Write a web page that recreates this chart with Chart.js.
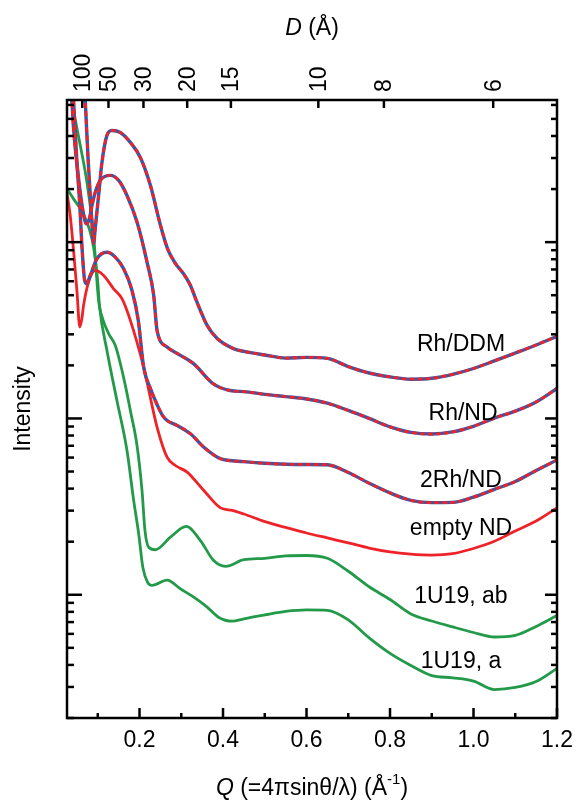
<!DOCTYPE html>
<html>
<head>
<meta charset="utf-8">
<script src="https://cdn.jsdelivr.net/npm/chart.js@4.4.0/dist/chart.umd.min.js"></script>
<style>
  html, body { margin: 0; padding: 0; background: #fff; }
</style>
</head>
<body>
<canvas id="chart" width="579" height="807"></canvas>
<script>
// Q (1/Å) vs intensity (arb. units, log scale)
const qTail = [0.45, 0.5, 0.55, 0.6, 0.65, 0.7, 0.75, 0.8, 0.85, 0.9, 0.95, 1.0, 1.05, 1.1, 1.15, 1.2];

const qRhDDM = [0.058, 0.070, 0.077, 0.085, 0.090, 0.094, 0.102, 0.110, 0.122, 0.134, 0.154, 0.178, 0.202, 0.226, 0.250, 0.267, 0.286, 0.305, 0.322, 0.336, 0.362, 0.386, 0.425, ...qTail];
const iRhDDM = [1930, 637, 290, 142, 98.4, 120, 184, 283, 403, 430, 419, 368, 302, 210, 125, 92.0, 75.7, 66.4, 56.8, 46.7, 33.7, 28.4, 24.9,
  24.0, 22.9, 22.0, 22.2, 21.9, 19.7, 18.1, 17.2, 16.7, 16.9, 17.8, 19.2, 21.2, 23.5, 26.1, 29.2];

const qRhND = [0.030, 0.038, 0.042, 0.054, 0.065, 0.073, 0.080, 0.086, 0.094, 0.106, 0.130, 0.150, 0.170, 0.194, 0.218, 0.234, 0.242, 0.266, 0.298, 0.330, 0.377, 0.417, ...qTail];
const iRhND = [1150, 637, 442, 230, 148, 127, 136, 161, 192, 224, 239, 224, 184, 130, 77.1, 49.9, 31.6, 25.4, 22.8, 20.4, 15.7, 14.4,
  14.2, 13.7, 13.3, 12.9, 12.2, 11.1, 10.0, 8.95, 8.33, 8.16, 8.39, 9.03, 10.05, 11.0, 12.4, 14.8];

const q2RhND = [0.037, 0.042, 0.050, 0.057, 0.062, 0.068, 0.073, 0.082, 0.098, 0.122, 0.142, 0.162, 0.182, 0.197, 0.210, 0.226, 0.242, 0.255, 0.266, 0.290, 0.322, 0.354, 0.394, ...qTail];
const i2RhND = [1070, 637, 284, 161, 95.7, 62.0, 58.1, 64.7, 80.5, 87.7, 82.2, 70.6, 53.2, 36.0, 19.5, 14.8, 12.0, 10.4, 9.74, 9.13, 8.19, 6.87, 5.91,
  5.69, 5.57, 5.50, 5.48, 5.46, 4.94, 4.29, 3.78, 3.43, 3.33, 3.34, 3.58, 3.96, 4.39, 5.07, 5.82];

const qEmptyND = [0.026, 0.034, 0.042, 0.050, 0.057, 0.062, 0.066, 0.078, 0.094, 0.114, 0.138, 0.158, 0.178, 0.210, 0.242, 0.266, 0.286, 0.314, 0.354, 0.394, 0.422, ...qTail];
const iEmptyND = [192, 142, 89.7, 53.2, 33.0, 36.9, 43.8, 59.3, 69.1, 64.7, 54.4, 47.8, 36.0, 19.5, 8.93, 6.03, 5.41, 4.96, 3.90, 3.11, 3.01,
  2.87, 2.60, 2.41, 2.24, 2.10, 1.97, 1.84, 1.75, 1.70, 1.68, 1.71, 1.83, 2.01, 2.30, 2.62, 3.11];

const q1U19ab = [0.026, 0.038, 0.058, 0.074, 0.090, 0.102, 0.113, 0.126, 0.142, 0.154, 0.166, 0.178, 0.194, 0.206, 0.213, 0.222, 0.238, 0.274, 0.312, 0.346, 0.377, 0.406, ...qTail];
const i1U19ab = [871, 622, 354, 219, 109, 46.7, 36.0, 30.3, 25.9, 20.5, 15.4, 11.1, 7.03, 3.90, 2.32, 1.86, 1.80, 2.12, 2.44, 2.03, 1.57, 1.45,
  1.58, 1.61, 1.66, 1.67, 1.61, 1.36, 1.11, 0.940, 0.778, 0.710, 0.657, 0.611, 0.576, 0.588, 0.661, 0.763];

const q1U19a = [0.026, 0.042, 0.058, 0.074, 0.086, 0.094, 0.100, 0.104, 0.122, 0.146, 0.170, 0.186, 0.198, 0.208, 0.219, 0.230, 0.266, 0.298, 0.330, 0.362, 0.389, 0.422, ...qTail];
const i1U19a = [201, 176, 155, 130, 104.5, 80.5, 59.3, 43.8, 24.3, 12.6, 6.58, 3.43, 2.22, 1.43, 1.18, 1.13, 1.21, 1.08, 0.969, 0.851, 0.746, 0.708,
  0.731, 0.768, 0.804, 0.820, 0.815, 0.720, 0.569, 0.465, 0.397, 0.348, 0.338, 0.324, 0.290, 0.298, 0.322, 0.382];

// axis ticks
const qTickLabels = ['0.2', '0.4', '0.6', '0.8', '1.0', '1.2'];
const qMinorTicks = [0.1, 0.3, 0.5, 0.7, 0.9, 1.1];
const dTickLabels = [100, 50, 30, 20, 15, 10, 8, 6]; // D = 2π/Q

// curve names, placed at (Q, intensity)
const curveLabels = [
  { text: 'Rh/DDM', q: 0.97, v: 24.0 },
  { text: 'Rh/ND', q: 0.975, v: 9.74 },
  { text: '2Rh/ND', q: 0.97, v: 4.06 },
  { text: 'empty ND', q: 0.97, v: 2.17 },
  { text: '1U19, ab', q: 0.97, v: 0.893 },
  { text: '1U19, a', q: 0.97, v: 0.382 }
];

const BLUE = '#3b56a5', RED = '#ee2229', GREEN = '#23994a';
const FONT = '"Liberation Sans", Arial, sans-serif';

const pts = (q, v) => q.map((x, i) => ({ x, y: v[i] }));

const line = (data, color, extra) => Object.assign({
  data, borderColor: color, borderWidth: 2.8, pointRadius: 0,
  cubicInterpolationMode: 'monotone', fill: false
}, extra || {});

const datasets = [];
// fitted samples: blue solid with red dotted on top
[[qRhDDM, iRhDDM], [qRhND, iRhND], [q2RhND, i2RhND]].forEach(([q, v]) => {
  datasets.push(line(pts(q, v), BLUE, { borderWidth: 3.4, order: 2 }));
  datasets.push(line(pts(q, v), RED, { borderWidth: 2.8, borderDash: [5, 3], order: 1 }));
});
datasets.push(line(pts(qEmptyND, iEmptyND), RED, { order: 3 }));
datasets.push(line(pts(q1U19ab, i1U19ab), GREEN, { order: 3 }));
datasets.push(line(pts(q1U19a, i1U19a), GREEN, { order: 3 }));

// frame, inward ticks, labels and titles
const axesPlugin = {
  id: 'axesPlugin',
  afterDatasetsDraw(chart) {
    const { ctx, chartArea: a, scales: { x, y } } = chart;
    ctx.save();
    ctx.strokeStyle = '#000';
    ctx.fillStyle = '#000';
    ctx.lineWidth = 2.5;
    ctx.strokeRect(a.left, a.top, a.right - a.left, a.bottom - a.top);

    const tick = (x1, y1, x2, y2) => { ctx.beginPath(); ctx.moveTo(x1, y1); ctx.lineTo(x2, y2); ctx.stroke(); };

    // bottom Q ticks
    qTickLabels.forEach(t => { const px = x.getPixelForValue(+t); tick(px, a.bottom, px, a.bottom - 10); });
    qMinorTicks.forEach(t => { const px = x.getPixelForValue(t); tick(px, a.bottom, px, a.bottom - 5); });
    // top D ticks
    dTickLabels.forEach(d => { const px = x.getPixelForValue(2 * Math.PI / d); tick(px, a.top, px, a.top + 8); });
    // log ticks left and right
    [0.1, 1, 10, 100].forEach(dec => {
      for (let m = 1; m <= 9; m++) {
        const v = m * dec;
        if (v < y.min || v > y.max) continue;
        const py = y.getPixelForValue(v);
        const major = m === 1;
        tick(a.left, py, a.left + (major ? 15 : 7), py);
        tick(a.right, py, a.right - (major ? 12 : 6), py);
      }
    });

    ctx.font = '23px ' + FONT;
    ctx.textAlign = 'center';
    ctx.textBaseline = 'alphabetic';
    qTickLabels.forEach(t => ctx.fillText(t, x.getPixelForValue(+t), 747));

    // top D labels, rotated
    ctx.textAlign = 'left';
    ctx.textBaseline = 'middle';
    dTickLabels.forEach(d => {
      ctx.save();
      ctx.translate(x.getPixelForValue(2 * Math.PI / d) + 1, a.top - 8);
      ctx.rotate(-Math.PI / 2);
      ctx.fillText(String(d), 0, 0);
      ctx.restore();
    });

    // curve names
    ctx.textAlign = 'center';
    ctx.textBaseline = 'alphabetic';
    curveLabels.forEach(l => ctx.fillText(l.text, x.getPixelForValue(l.q), y.getPixelForValue(l.v)));

    // mixed-style text runs
    const runs = (parts, cx, base) => {
      let w = 0;
      parts.forEach(p => { ctx.font = p.font; w += ctx.measureText(p.t).width; });
      let px = cx - w / 2;
      ctx.textAlign = 'left';
      parts.forEach(p => { ctx.font = p.font; ctx.fillText(p.t, px, base + (p.dy || 0)); px += ctx.measureText(p.t).width; });
    };
    const cx = (a.left + a.right) / 2;
    runs([
      { t: 'D', font: 'italic 23px ' + FONT },
      { t: ' (Å)', font: '23px ' + FONT }
    ], cx, 35);
    runs([
      { t: 'Q', font: 'italic 23px ' + FONT },
      { t: ' (=4πsinθ/λ) (Å', font: '23px ' + FONT },
      { t: '-1', font: '15px ' + FONT, dy: -11 },
      { t: ')', font: '23px ' + FONT }
    ], cx, 795);

    // y title
    ctx.save();
    ctx.translate(30, (a.top + a.bottom) / 2);
    ctx.rotate(-Math.PI / 2);
    ctx.font = '23px ' + FONT;
    ctx.textAlign = 'center';
    ctx.fillText('Intensity', 0, 0);
    ctx.restore();

    ctx.restore();
  }
};

new Chart(document.getElementById('chart').getContext('2d'), {
  type: 'line',
  data: { datasets },
  options: {
    responsive: false,
    animation: false,
    layout: { padding: { left: 67, right: 22, top: 100, bottom: 89 } },
    plugins: { legend: { display: false }, tooltip: { enabled: false } },
    scales: {
      x: { type: 'linear', min: 0.0263, max: 1.2, display: false },
      y: { type: 'logarithmic', min: 0.2, max: 640, display: false }
    }
  },
  plugins: [axesPlugin]
});
</script>
</body>
</html>
